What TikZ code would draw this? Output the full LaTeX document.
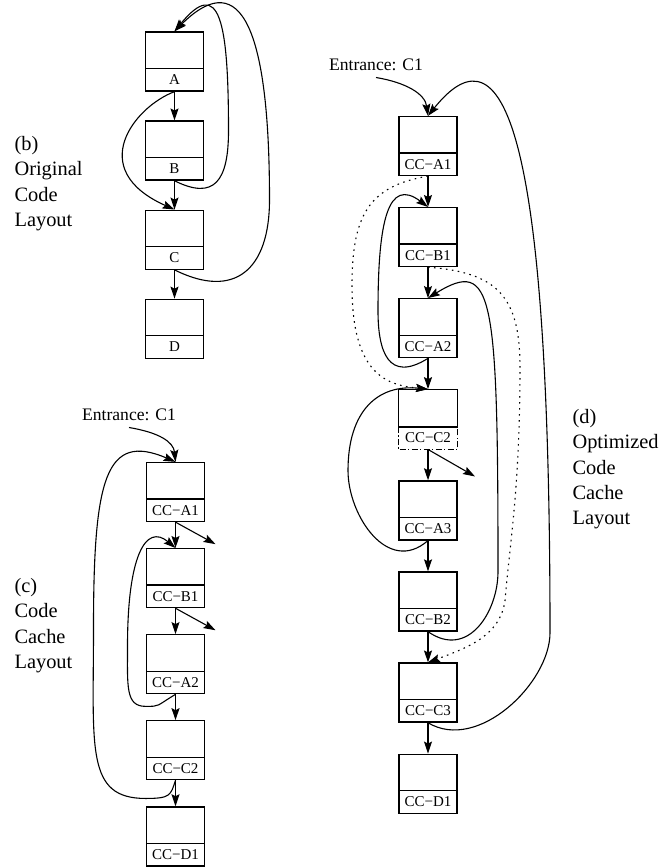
\documentclass[tikz,border=0pt]{standalone}
\usepackage{fontspec}
\setmainfont{Liberation Serif}
\usetikzlibrary{positioning, arrows.meta}
\newcommand{\cname}[1]{CC−#1}

\begin{document}
\begin{tikzpicture}[x = 0.5pt, y = -0.5pt, line width = 0.55pt, >={Stealth[length = 6pt, width = 4pt, inset = 1pt]},
  blk/.style={draw, line width = 0.65pt, minimum width = 29pt, inner sep = 0pt, text height = 26.25pt, text depth = 3.25pt,
    font = \fontsize{7.5}{9}\selectfont,
    path picture = {\draw ([yshift = 11.25pt]path picture bounding box.south west) -- ([yshift = 11.25pt]path picture bounding box.south east);}},
  side/.style={anchor = north west, align = left, inner sep = 0pt, font = \fontsize{10.2}{12.6}\selectfont},
  ent/.style={inner sep = 3pt, font = \fontsize{8.8}{10}\selectfont},
  dots/.style={dash pattern = on 0.8pt off 2.2pt}]
  \useasboundingbox (0,0) rectangle (660,867);

  % nodes
  \node [blk] (a) at (174.5,61.5) {A};
  \node [blk] [below = 14.4pt of a] (b) {B};
  \node [blk] [below = 14.4pt of b] (c) {C};
  \node [blk] [below = 14.4pt of c] (d) {D};
  \node [side] (capb) at (14,136) {(b)\\Original\\Code\\Layout};

  \node [blk] (ca1) at (175.5,492) {\cname{A1}};
  \node [blk] [below = 12.9pt of ca1] (cb1) {\cname{B1}};
  \node [blk] [below = 12.9pt of cb1] (ca2) {\cname{A2}};
  \node [blk] [below = 12.9pt of ca2] (cc2) {\cname{C2}};
  \node [blk] [below = 12.9pt of cc2] (cd1) {\cname{D1}};
  \node [ent] (entc) at (129,415) {Entrance: C1};
  \node [side] (capc) at (14,578) {(c)\\Code\\Cache\\Layout};
  \coordinate (ca1out) at ([shift = {(40,22)}]ca1.south);
  \coordinate (cb1out) at ([shift = {(40,22)}]cb1.south);

  \node [blk] (da1) at (428,146) {\cname{A1}};
  \node [blk] [below = 15.4pt of da1] (db1) {\cname{B1}};
  \node [blk] [below = 15.4pt of db1] (da2) {\cname{A2}};
  \node [blk, draw = none] [below = 15.4pt of da2] (dc2) {\cname{C2}};
  \node [blk] [below = 15.4pt of dc2] (da3) {\cname{A3}};
  \node [blk] [below = 15.4pt of da3] (db2) {\cname{B2}};
  \node [blk] [below = 15.4pt of db2] (dc3) {\cname{C3}};
  \node [blk] [below = 15.4pt of dc3] (dd1) {\cname{D1}};
  \node [ent] (entd) at (376,65) {Entrance: C1};
  \node [side] (capd) at (572,409) {(d)\\Optimized\\Code\\Cache\\Layout};
  \coordinate (dc2out) at ([shift = {(47,27)}]dc2.south);

  % the side-exit block
  \draw [line width = 0.65pt] (dc2.north west) rectangle ([yshift = 11.25pt]dc2.south east);
  \draw [line width = 0.65pt, dash pattern = on 3pt off 1.2pt on 0.6pt off 1.2pt] ([yshift = 11.25pt]dc2.south west) |- (dc2.south east) -- ([yshift = 11.25pt]dc2.south east);

  % edges (b)
  \draw [->] (a) -- (b);
  \draw [->] (b) -- (c);
  \draw [->] (c) -- (d);
  \draw [->] (a.south) .. controls +(-40,15) and +(-90,-40) .. (c.north);
  \draw [->] (b.south) .. controls +(40,20) and +(0,50) .. ++(54,-50) .. controls +(0,-110) and +(45,-55) .. (a.north);
  \draw [->] (c.south) .. controls +(60,30) and +(0,70) .. ++(95,-70) .. controls +(0,-190) and +(60,-60) .. (a.north);

  % edges (c)
  \draw [->] (entc.south) .. controls +(30,5) and +(-2,-20) .. (ca1.north);
  \draw [->] (ca1) -- (cb1);
  \draw [->] (cb1) -- (ca2);
  \draw [->] (ca2) -- (cc2);
  \draw [->] (cc2) -- (cd1);
  \draw [->] (ca1.south) -- (ca1out);
  \draw [->] (cb1.south) -- (cb1out);
  \draw [->] (ca2.south) .. controls +(-20,12) and +(15,0) .. ++(-30,12) .. controls +(-20,0) and +(0,40) .. ++(-18,-60) .. controls +(0,-90) and +(-30,-25) .. (cb1.north);
  \draw [->] (cc2.south) .. controls +(-5,15) and +(25,0) .. ++(-30,18) .. controls +(-60,0) and +(0,120) .. ++(-52,-170) .. controls +(0,-150) and +(-70,-30) .. (ca1.north);

  % edges (d)
  \draw [->] (entd.south) .. controls +(30,5) and +(-3,-22) .. (da1.north);
  \draw [->] (da1) -- (db1);
  \draw [->] (db1) -- (da2);
  \draw [->] (da2) -- (dc2);
  \draw [->] (dc2) -- (da3);
  \draw [->] (da3) -- (db2);
  \draw [->] (db2) -- (dc3);
  \draw [->] (dc3) -- (dd1);
  \draw [->] (dc2.south) -- (dc2out);
  \draw [dots] [->] (da1.south) .. controls +(-60,10) and +(0,-70) .. ++(-76,110) .. controls +(0,90) and +(-40,-4) .. (dc2.north);
  \draw [->] (da2.south) .. controls +(-40,25) and +(0,40) .. ++(-50,-47.5) .. controls +(0,-90) and +(-40,-30) .. (db1.north);
  \draw [dots] [->] (db1.south) .. controls +(70,5) and +(0,-70) .. ++(92,100) .. controls +(0,120) and +(5,-60) .. ++(-15,233.5) .. controls +(-5,35) and +(40,-15) .. (dc3.north);
  \draw [->] (db2.south) .. controls +(40,28) and +(0,40) .. ++(70,-60) .. controls +(0,-280) and +(65,-40) .. (da2.north);
  \draw [->] (da3.south) .. controls +(-40,35) and +(0,45) .. ++(-80,-70) .. controls +(0,-60) and +(-50,-5) .. (dc2.north);
  \draw [->] (dc3.south) .. controls +(50,30) and +(0,50) .. ++(122,-90) .. controls +(0,-481.5) and +(80,-100) .. (da1.north);
\end{tikzpicture}
\end{document}
